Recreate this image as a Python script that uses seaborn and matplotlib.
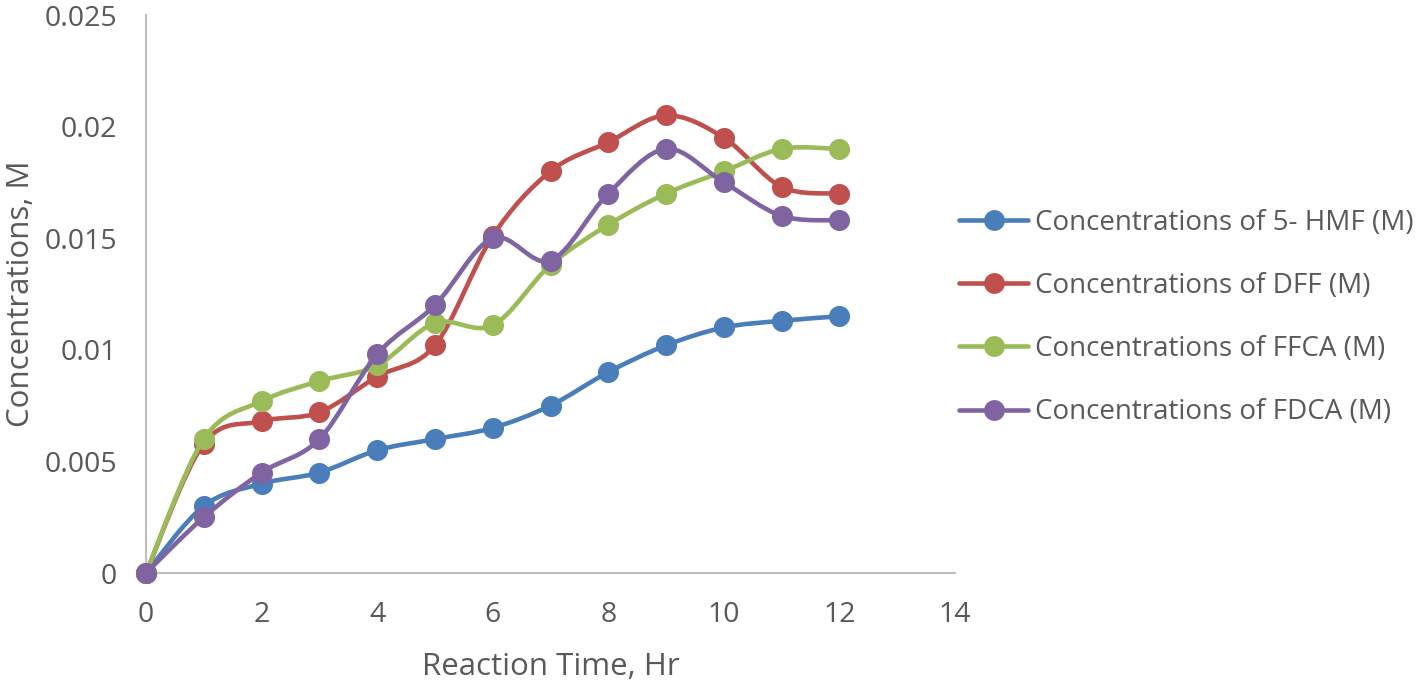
import numpy as np
import pandas as pd
import matplotlib
matplotlib.use("Agg")
import matplotlib.pyplot as plt
import seaborn as sns
from matplotlib.path import Path
from matplotlib.patches import PathPatch
from matplotlib.lines import Line2D

# ---- data ----
time_hr = [0, 1, 2, 3, 4, 5, 6, 7, 8, 9, 10, 11, 12]
hmf = [0, 0.0030, 0.0040, 0.0045, 0.0055, 0.0060, 0.0065, 0.0075, 0.0090, 0.0102, 0.0110, 0.0113, 0.0115]
dff = [0, 0.0058, 0.0068, 0.0072, 0.0088, 0.0102, 0.0151, 0.0180, 0.0193, 0.0205, 0.0195, 0.0173, 0.0170]
ffca = [0, 0.0060, 0.0077, 0.0086, 0.0093, 0.0112, 0.0111, 0.0138, 0.0156, 0.0170, 0.0180, 0.0190, 0.0190]
fdca = [0, 0.0025, 0.0045, 0.0060, 0.0098, 0.0120, 0.0150, 0.0140, 0.0170, 0.0190, 0.0175, 0.0160, 0.0158]
series_names = ["Concentrations of 5- HMF (M)", "Concentrations of DFF (M)",
                "Concentrations of FFCA (M)", "Concentrations of FDCA (M)"]
series_values = [hmf, dff, ffca, fdca]
colors = ["#4A7EBB", "#C0504D", "#9BBB59", "#8064A2"]
x_ticks = [0, 2, 4, 6, 8, 10, 12, 14]
y_ticks = [0, 0.005, 0.01, 0.015, 0.02, 0.025]
y_tick_labels = ["0", "0.005", "0.01", "0.015", "0.02", "0.025"]

sns.set_theme(style="white")
plt.rcParams["font.family"] = ["Open Sans", "DejaVu Sans"]
text_color = "#595959"


def smooth_path(xs, ys):
    """Excel-like smoothed line: cubic Bezier segments through each point."""
    pts = np.column_stack([xs, ys]).astype(float)
    n = len(pts)
    verts = [tuple(pts[0])]
    codes = [Path.MOVETO]
    for i in range(n - 1):
        p0 = pts[i - 1] if i > 0 else pts[i]
        p1 = pts[i]
        p2 = pts[i + 1]
        p3 = pts[i + 2] if i + 2 < n else pts[i + 1]
        c1 = p1 + (p2 - p0) / 6.0
        c2 = p2 - (p3 - p1) / 6.0
        verts += [tuple(c1), tuple(c2), tuple(p2)]
        codes += [Path.CURVE4] * 3
    return Path(verts, codes)


fig = plt.figure(figsize=(14.18, 6.84), dpi=100)
ax = fig.add_axes([146 / 1418, 1 - 573 / 684, (955 - 146) / 1418, (573 - 15) / 684])

for i, (name, vals, col) in enumerate(zip(series_names, series_values, colors)):
    patch = PathPatch(smooth_path(time_hr, vals), facecolor="none", edgecolor=col,
                      lw=3.3, zorder=2 + 2 * i, capstyle="round", joinstyle="round",
                      clip_on=False)
    ax.add_patch(patch)
    sns.scatterplot(x=time_hr, y=vals, color=col, s=230, edgecolor=col, linewidth=0,
                    zorder=3 + 2 * i, ax=ax, legend=False, clip_on=False)

ax.set_xlim(0, 14)
ax.set_ylim(0, 0.025)
ax.set_xticks(x_ticks)
ax.set_xticklabels([str(t) for t in x_ticks])
ax.set_yticks(y_ticks)
ax.set_yticklabels(y_tick_labels)
ax.tick_params(axis="both", length=0, labelsize=20.5, colors=text_color)
ax.tick_params(axis="y", pad=21)
ax.tick_params(axis="x", pad=20.5)
for s in ["top", "right"]:
    ax.spines[s].set_visible(False)
for s in ["left", "bottom"]:
    ax.spines[s].set_color("#bfbfbf")
    ax.spines[s].set_linewidth(1.5)
ax.grid(False)

ax.set_xlabel("Reaction Time, Hr", fontsize=22.5, color=text_color, labelpad=16)
ax.set_ylabel("Concentrations, M", fontsize=22.5, color=text_color, labelpad=6)

handles = [Line2D([0], [0], color=c, lw=3.3, marker="o", markersize=15,
                  markeredgewidth=0) for c in colors]
fig.legend(handles, series_names, loc="center left",
           bbox_to_anchor=(959 / 1418, 1 - 317.5 / 684), frameon=False,
           fontsize=20.0, handlelength=2.5, handletextpad=0.25, labelspacing=1.27,
           borderaxespad=0, borderpad=0, labelcolor=text_color)

fig.savefig("out.png", dpi=100)
